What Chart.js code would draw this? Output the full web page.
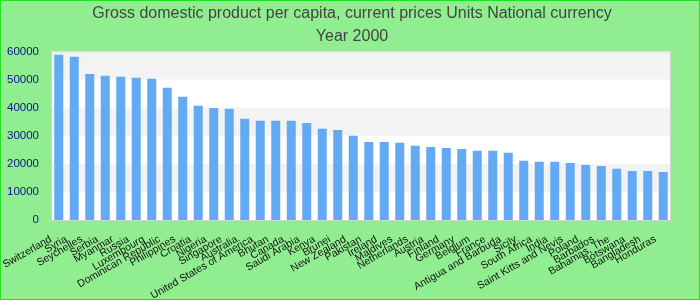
<!DOCTYPE html>
<html>
<head>
<meta charset="utf-8">
<script src="https://cdn.jsdelivr.net/npm/chart.js@4.4.1/dist/chart.umd.min.js"></script>
<style>
  html, body { margin: 0; padding: 0; background: #90ee90; }
  #wrap { width: 698px; height: 298px; border: 1px solid #22e022; background: #90ee90; position: relative; }
  canvas { display: block; }
</style>
</head>
<body>
<div id="wrap"><canvas id="c" width="698" height="298"></canvas></div>
<script>
const titleLines = ["Gross domestic product per capita, current prices Units National currency", "Year 2000"];
const countries = ["Switzerland", "Syria", "Seychelles", "Serbia", "Myanmar", "Russia", "Luxembourg",
  "Dominican Republic", "Philippines", "Croatia", "Nigeria", "Singapore", "Australia",
  "United States of America", "Bhutan", "Canada", "Saudi Arabia", "Kenya", "Brunei", "New Zealand",
  "Pakistan", "Ireland", "Maldives", "Netherlands", "Austria", "Finland", "Germany", "Belgium",
  "France", "Antigua and Barbuda", "Sicily", "South Africa", "India", "Saint Kitts and Nevis",
  "Poland", "Barbados", "Bahamas, The", "Botswana", "Bangladesh", "Honduras"];
const gdpValues = [58800, 58100, 52000, 51300, 50950, 50600, 50250,
  47050, 43850, 40650, 39900, 39550, 36000,
  35300, 35300, 35300, 34550, 32450, 32050, 29950,
  27800, 27800, 27450, 26400, 26000, 25650, 25300, 24600,
  24600, 23900, 21050, 20700, 20700, 20300,
  19600, 19250, 18200, 17450, 17450, 17100];
const yTicks = [0, 10000, 20000, 30000, 40000, 50000, 60000];

const bandsPlugin = {
  id: 'bands',
  beforeDatasetsDraw(chart) {
    const { ctx, chartArea: a, scales: { y } } = chart;
    ctx.save();
    ctx.fillStyle = '#ffffff';
    ctx.fillRect(a.left, a.top, a.right - a.left, a.bottom - a.top);
    ctx.fillStyle = '#f3f3f3';
    for (let i = 0; i < yTicks.length - 1; i++) {
      if (i % 2 === 1) {
        const y1 = y.getPixelForValue(yTicks[i]);
        const y2 = y.getPixelForValue(yTicks[i + 1]);
        ctx.fillRect(a.left, y2, a.right - a.left, y1 - y2);
      }
    }
    ctx.restore();
  },
  afterDatasetsDraw(chart) {
    const { ctx, chartArea: a } = chart;
    ctx.save();
    ctx.strokeStyle = '#d4d4d4';
    ctx.lineWidth = 1;
    ctx.strokeRect(a.left + 0.5, a.top + 0.5, a.right - a.left - 1, a.bottom - a.top);
    ctx.restore();
  }
};

new Chart(document.getElementById('c'), {
  type: 'bar',
  data: {
    labels: countries,
    datasets: [{
      data: gdpValues,
      backgroundColor: '#62aaf3',
      borderWidth: 0,
      categoryPercentage: 1,
      barPercentage: 0.58
    }]
  },
  plugins: [bandsPlugin],
  options: {
    responsive: false,
    animation: false,
    layout: { padding: { left: 4, right: 0, top: 0, bottom: 0 } },
    plugins: {
      legend: { display: false },
      tooltip: { enabled: false },
      title: {
        display: true,
        text: titleLines,
        color: '#444444',
        font: { family: 'Liberation Sans', size: 16, weight: 'normal', lineHeight: 1.45 },
        padding: { top: 1, bottom: 3 }
      }
    },
    scales: {
      x: {
        grid: { display: false, drawTicks: false },
        border: { display: false },
        afterFit(scale) { scale.paddingLeft = 0; scale.paddingRight = 0; scale.height = 79; },
        ticks: {
          autoSkip: false,
          minRotation: 30,
          maxRotation: 30,
          color: '#111111',
          padding: 13,
          labelOffset: -8,
          font: { family: 'Liberation Sans', size: 10.5 }
        }
      },
      y: {
        min: 0,
        max: 60000,
        grid: { display: false, drawTicks: false },
        border: { display: false },
        afterBuildTicks(scale) { scale.ticks = yTicks.map(v => ({ value: v })); },
        afterFit(scale) { scale.width = 46; },
        ticks: {
          color: '#10108a',
          padding: 12,
          font: { family: 'Liberation Sans', size: 11.5 },
          callback: (v) => String(v)
        }
      },
      yRight: {
        position: 'right',
        display: true,
        grid: { display: false, drawTicks: false },
        border: { display: false },
        ticks: { display: false },
        afterFit(scale) { scale.width = 28; }
      }
    }
  }
});
</script>
</body>
</html>
